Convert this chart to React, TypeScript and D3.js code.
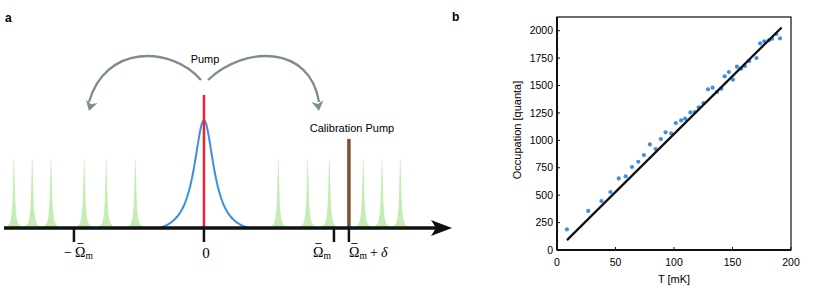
import * as d3 from 'd3'

// panel a: spectrum positions, in units of the mechanical frequency
const sidebandPeaks = [-1.462, -1.321, -1.177, -0.921, -0.752, -0.528, 0.572, 0.798, 0.964, 1.225, 1.369, 1.51];
const omegaTicks = [-1, 1, 1.115];
const calibrationPos = 1.115;
const sidebandHeight = 0.534;
const cavityHeight = 0.81;
const pumpHeight = 1;
const calibrationHeight = 0.67;

// panel b: occupation vs temperature
const temps = [8.5, 26.7, 38, 45.7, 52.8, 58.7, 64.1, 69.5, 74.3, 79.4, 84.3, 88.8, 92.8, 97.6, 101.6, 106.1, 109.5, 114, 117.7, 121.1, 125.1, 129.1, 133, 136.7, 140.4, 143.3, 146.9, 150.4, 153.8, 157.4, 160.6, 164.3, 170.5, 173.6, 177.3, 181.3, 183.8, 187.5, 190.6];
const occupation = [188, 356, 447, 529, 653, 672, 757, 805, 866, 963, 921, 1012, 1073, 1064, 1158, 1182, 1198, 1255, 1258, 1301, 1340, 1465, 1480, 1441, 1471, 1584, 1623, 1553, 1672, 1653, 1678, 1723, 1751, 1884, 1903, 1915, 1927, 1970, 1930];
const fitT = [8.5, 192];
const fitN = [90, 2030];
const xTicksB = [0, 50, 100, 150, 200];
const yTicksB = [0, 250, 500, 750, 1000, 1250, 1500, 1750, 2000];

const sans = "'Liberation Sans', Arial, sans-serif";
const serif = "'Liberation Serif', 'DejaVu Serif', serif";

const arrowHead = (x: number, y: number, ang: number) => {
  // barbed head pointing along ang (radians)
  const pts: [number, number][] = [[0, 0], [-10, -6], [-7, 0], [-10, 6]];
  return 'M' + pts.map(([px, py]) => {
    const rx = x + px * Math.cos(ang) - py * Math.sin(ang);
    const ry = y + px * Math.sin(ang) + py * Math.cos(ang);
    return `${rx},${ry}`;
  }).join('L') + 'Z';
}

// omega-bar label: glyph, overbar and subscript m
const OmegaLabel = ({x0, pre, post}: {x0: number; pre?: boolean; post?: boolean}) => (
  <g fontFamily={serif}>
    {pre && <text x={x0 - 11} y={257} fontSize={14}>{'\u2212'}</text>}
    <text x={x0} y={257} fontSize={14}>{'\u03A9'}</text>
    <line x1={x0 + 2.5} x2={x0 + 8.5} y1={243.5} y2={243.5} stroke="#222" strokeWidth={1} />
    <text x={x0 + 10.5} y={259} fontSize={9.5}>m</text>
    {post && <text x={x0 + 21} y={257} fontSize={14}>+</text>}
    {post && <text x={x0 + 32} y={257} fontSize={14} fontStyle="italic">δ</text>}
  </g>
)

const SpectrumPanel = () => {
  const x = d3.scaleLinear().domain([-1.538, 1.908]).range([4, 452]);
  const y = d3.scaleLinear().domain([0, 1]).range([228, 95]);

  //lorentzian generator for the green sidebands
  const sideband = (c: number) => {
    const g = 0.009;
    const xs = d3.range(-0.06, 0.0601, 0.002).map(d => c + d);
    return d3.area<number>()
      .x(d => x(d))
      .y0(y(0))
      .y1(d => y(sidebandHeight / (1 + ((d - c) / g) ** 2)))(xs);
  }

  //cavity lineshape, clipped to zero at the edges
  const gam = 0.092, half = 0.34;
  const edge = 1 / (1 + (half / gam) ** 2);
  const cavity = d3.line<number>()
    .x(d => x(d))
    .y(d => y(cavityHeight * (1 / (1 + (d / gam) ** 2) - edge) / (1 - edge)))
    .curve(d3.curveBasis)(d3.range(-half, half + 0.001, 0.005));

  return (
    <g>
      <text x={5} y={22} fontFamily={sans} fontWeight="bold" fontSize={12}>a</text>
      {sidebandPeaks.map((c, i) => (
        <path key={i} d={sideband(c) || ''} fill="#c6ecb6" />
      ))}
      <path d={cavity || ''} fill="none" stroke="#3a8ee6" strokeWidth={2} />
      <line x1={x(0)} x2={x(0)} y1={y(0)} y2={y(pumpHeight)} stroke="#f5222d" strokeWidth={2.5} />
      <line x1={x(calibrationPos)} x2={x(calibrationPos)} y1={y(0)} y2={y(calibrationHeight)} stroke="#7f5233" strokeWidth={3.5} />

      {/* frequency axis */}
      <line x1={4} x2={440} y1={y(0)} y2={y(0)} stroke="#111" strokeWidth={3.5} />
      <path d={`M452,${y(0)}L431,${y(0) - 8}L436,${y(0)}L431,${y(0) + 8}Z`} fill="#111" />
      {[0, ...omegaTicks].map((t, i) => (
        <line key={i} x1={x(t)} x2={x(t)} y1={y(0)} y2={y(0) + 14} stroke="#111" strokeWidth={2.5} />
      ))}
      <text x={x(0) + 2} y={258} textAnchor="middle" fontFamily={serif} fontSize={15}>0</text>
      <OmegaLabel x0={x(omegaTicks[0]) + 1} pre />
      <OmegaLabel x0={x(omegaTicks[1]) - 21} />
      <OmegaLabel x0={x(omegaTicks[2])} post />

      {/* pump arrows */}
      <path d="M201,80C170,45 105,45 89,102" fill="none" stroke="#7d8d8d" strokeWidth={2.3} />
      <path d={arrowHead(89, 111, Math.atan2(57, -16))} fill="#7d8d8d" />
      <path d="M208,80C245,45 310,45 319,102" fill="none" stroke="#7d8d8d" strokeWidth={2.3} />
      <path d={arrowHead(319, 111, Math.atan2(57, 9))} fill="#7d8d8d" />
      <text x={205} y={63} textAnchor="middle" fontFamily={sans} fontSize={11}>Pump</text>
      <text x={352} y={132} textAnchor="middle" fontFamily={sans} fontSize={11}>Calibration Pump</text>
    </g>
  )
}

const OccupationPanel = () => {
  const x = d3.scaleLinear().domain([0, 200]).range([557, 791]);
  const y = d3.scaleLinear().domain([0, 2125]).range([250, 17]);
  const fit = d3.line<number>().x((_, i) => x(fitT[i])).y(d => y(d))(fitN);

  return (
    <g>
      <text x={452} y={21} fontFamily={sans} fontWeight="bold" fontSize={12}>b</text>
      {temps.map((t, i) => (
        <circle key={i} cx={x(t)} cy={y(occupation[i])} r={2.1} fill="#3d8fe8" />
      ))}
      <path d={fit || ''} fill="none" stroke="#111" strokeWidth={2.2} />

      {/* frame */}
      <rect x={x(0)} y={y(2125)} width={x(200) - x(0)} height={y(0) - y(2125)} fill="none" stroke="#222" strokeWidth={1.3} />
      <line x1={x(0)} x2={x(0)} y1={y(0)} y2={y(2125)} stroke="#111" strokeWidth={2} />
      <line x1={x(0)} x2={x(200)} y1={y(0)} y2={y(0)} stroke="#111" strokeWidth={2} />

      {xTicksB.map(t => (
        <g key={t}>
          <line x1={x(t)} x2={x(t)} y1={y(0)} y2={y(0) - 3} stroke="#111" strokeWidth={1} />
          <text x={x(t)} y={266} textAnchor="middle" fontFamily={sans} fontSize={10.5}>{t}</text>
        </g>
      ))}
      {yTicksB.map(t => (
        <g key={t}>
          <line x1={x(0)} x2={x(0) + 3} y1={y(t)} y2={y(t)} stroke="#111" strokeWidth={1} />
          <text x={553} y={y(t) + 3.7} textAnchor="end" fontFamily={sans} fontSize={10.5}>{t}</text>
        </g>
      ))}
      <text x={x(100)} y={283} textAnchor="middle" fontFamily={sans} fontSize={11}>T [mK]</text>
      <text transform={`translate(521,130) rotate(-90)`} textAnchor="middle" fontFamily={sans} fontSize={11}>Occupation [quanta]</text>
    </g>
  )
}

const App = () => {
  return (
    <svg
      width={830}
      height={287}
      style={{position: 'absolute', left: 0, top: 0, background: '#fff'}}
    >
      <SpectrumPanel />
      <OccupationPanel />
    </svg>
  )
}
export default App
